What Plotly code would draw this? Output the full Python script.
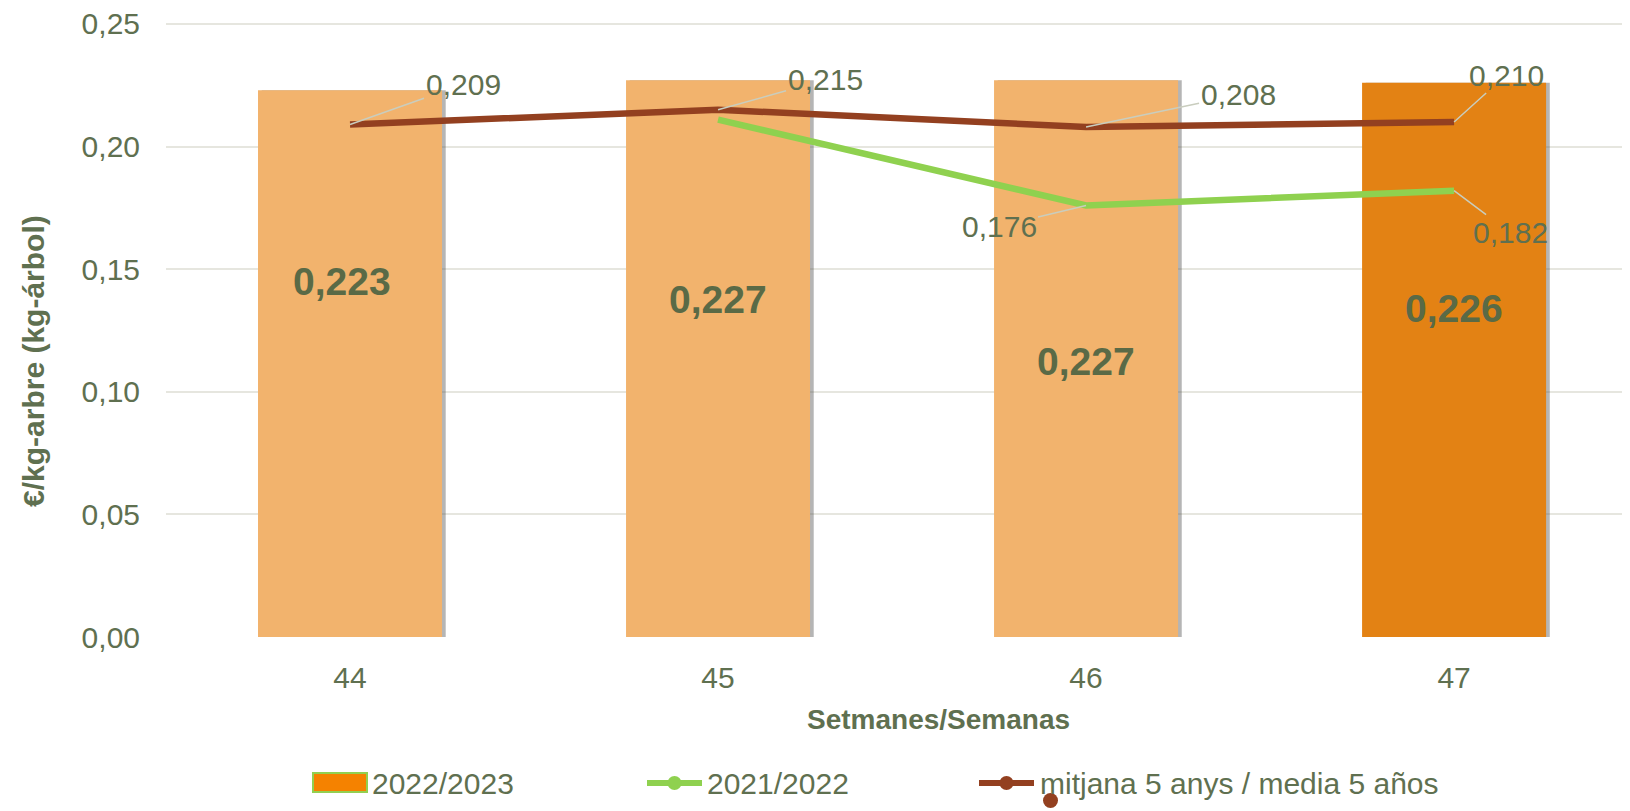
import plotly.graph_objects as go

# ---- data ----
weeks = ["44", "45", "46", "47"]
season_2022_23 = [0.223, 0.227, 0.227, 0.226]
season_2021_22 = [None, 0.211, 0.176, 0.182]
media_5_anys = [0.209, 0.215, 0.208, 0.210]
series_names = ["2022/2023", "2021/2022", "mitjana 5 anys / media 5 años"]
y_ticks = [0.00, 0.05, 0.10, 0.15, 0.20, 0.25]
y_tick_text = ["0,00", "0,05", "0,10", "0,15", "0,20", "0,25"]

# ---- style ----
TXT = "#5F7050"
TXT_BAR = "#5A6A46"
BAR_LIGHT = "#F2B36D"
BAR_DARK = "#E38214"
GREEN = "#8FD14F"
BROWN = "#934020"
LEADER = "#C9CDBE"
FONT = "Liberation Sans, Arial, sans-serif"

# page has an 8px body margin: compensate so the plot sits where it should on screen
OFF = 8
W, H = 1630 - OFF, 811 - OFF
PLOT_L, PLOT_T, PLOT_B = 166, 22, 637          # screen coordinates
ML, MT, MR = PLOT_L - OFF, PLOT_T - OFF, 0
MB = H - (PLOT_B - OFF)
PW, PH = W - ML - MR, (PLOT_B - PLOT_T)
Y_MAX = 0.2508


def fmt(v):
    return f"{v:.3f}".replace(".", ",")


def px(x):
    return (x - PLOT_L) / PW


def py(y):
    return (PLOT_B - y) / PH


idx = list(range(len(weeks)))

fig = go.Figure()

# bar shadow
fig.add_trace(go.Bar(
    x=idx, y=season_2022_23, width=0.5, offset=-0.25 + 0.010,
    marker=dict(color="rgba(70,70,70,0.40)", line=dict(width=0)),
    showlegend=False, hoverinfo="skip"))
# bars
fig.add_trace(go.Bar(
    x=idx, y=season_2022_23, width=0.5, offset=-0.25,
    marker=dict(color=[BAR_LIGHT, BAR_LIGHT, BAR_LIGHT, BAR_DARK], line=dict(width=0)),
    name=series_names[0], showlegend=False))

# lines
fig.add_trace(go.Scatter(
    x=idx, y=season_2021_22, mode="lines", name=series_names[1],
    line=dict(color=GREEN, width=6.5), showlegend=False, connectgaps=False))
fig.add_trace(go.Scatter(
    x=idx, y=media_5_anys, mode="lines", name=series_names[2],
    line=dict(color=BROWN, width=6.5), showlegend=False))

annotations = []

# bar value labels (placed inside bars, as in the original)
bar_label_y = [0.1449, 0.1377, 0.1123, 0.1339]
bar_label_dx = [-8, 0, 0, 0]
for i in idx:
    annotations.append(dict(
        x=i, y=bar_label_y[i], text=f"<b>{fmt(season_2022_23[i])}</b>",
        showarrow=False, xshift=bar_label_dx[i],
        font=dict(family=FONT, size=39, color=TXT_BAR)))

# line value labels with leader lines
brown_offsets = [(113, -40), (107, -30), (152, -32), (52, -47)]
for i in idx:
    ax, ay = brown_offsets[i]
    annotations.append(dict(
        x=i, y=media_5_anys[i], text=fmt(media_5_anys[i]), showarrow=True,
        arrowhead=0, arrowwidth=1.5, arrowcolor=LEADER, ax=ax, ay=ay,
        font=dict(family=FONT, size=30, color=TXT)))
green_offsets = {2: (-87, 21), 3: (56, 42)}
for i, (ax, ay) in green_offsets.items():
    annotations.append(dict(
        x=i, y=season_2021_22[i], text=fmt(season_2021_22[i]), showarrow=True,
        arrowhead=0, arrowwidth=1.5, arrowcolor=LEADER, ax=ax, ay=ay,
        font=dict(family=FONT, size=30, color=TXT)))

# axis titles
annotations.append(dict(
    xref="paper", yref="paper", x=px(33), y=py(361), text="<b>€/kg-arbre (kg-árbol)</b>",
    textangle=-90, showarrow=False, xanchor="center", yanchor="middle",
    font=dict(family=FONT, size=30, color=TXT)))
annotations.append(dict(
    xref="paper", yref="paper", x=px(938), y=py(719), text="<b>Setmanes/Semanas</b>",
    showarrow=False, xanchor="center", yanchor="middle",
    font=dict(family=FONT, size=28, color=TXT)))

# manual legend (screen coordinates)
shapes = []
ly = 783
shapes.append(dict(type="rect", xref="paper", yref="paper",
                   x0=px(313), x1=px(367), y0=py(792), y1=py(773),
                   fillcolor="#F58200", line=dict(color="#92D050", width=2)))
for (x0, x1), col in [((647, 702), GREEN), ((979, 1034), BROWN)]:
    shapes.append(dict(type="line", xref="paper", yref="paper",
                       x0=px(x0), x1=px(x1), y0=py(ly), y1=py(ly),
                       line=dict(color=col, width=6)))
    cx = (x0 + x1) / 2
    shapes.append(dict(type="circle", xref="paper", yref="paper",
                       x0=px(cx - 7), x1=px(cx + 7), y0=py(ly + 7), y1=py(ly - 7),
                       fillcolor=col, line=dict(color=col, width=0)))
# stray marker below the legend (as in the original)
shapes.append(dict(type="circle", xref="paper", yref="paper",
                   x0=px(1043), x1=px(1058), y0=py(808), y1=py(793),
                   fillcolor=BROWN, line=dict(color=BROWN, width=0)))
for name, x0 in zip(series_names, [370, 705, 1038]):
    annotations.append(dict(
        xref="paper", yref="paper", x=px(x0), y=py(ly), text=name,
        showarrow=False, xanchor="left", yanchor="middle",
        font=dict(family=FONT, size=30, color=TXT)))

fig.update_layout(
    width=W, height=H,
    margin=dict(l=ML, r=MR, t=MT, b=MB, pad=0),
    paper_bgcolor="white", plot_bgcolor="white",
    barmode="overlay", showlegend=False,
    annotations=annotations, shapes=shapes,
    font=dict(family=FONT, color=TXT),
)
fig.update_xaxes(
    range=[-0.5, 3.478], tickvals=idx, ticktext=weeks,
    showgrid=False, zeroline=False,
    showline=False, ticks="", ticklabelstandoff=20,
    tickfont=dict(family=FONT, size=30, color=TXT))
fig.update_yaxes(
    range=[0, Y_MAX], tickvals=y_ticks, ticktext=y_tick_text,
    showgrid=True, gridcolor="#E6E6DF", gridwidth=1.5, zeroline=False,
    showline=False, ticks="", ticklabelstandoff=25, ticklabeloverflow="allow",
    tickfont=dict(family=FONT, size=30, color=TXT))

fig.write_html("out.html")
